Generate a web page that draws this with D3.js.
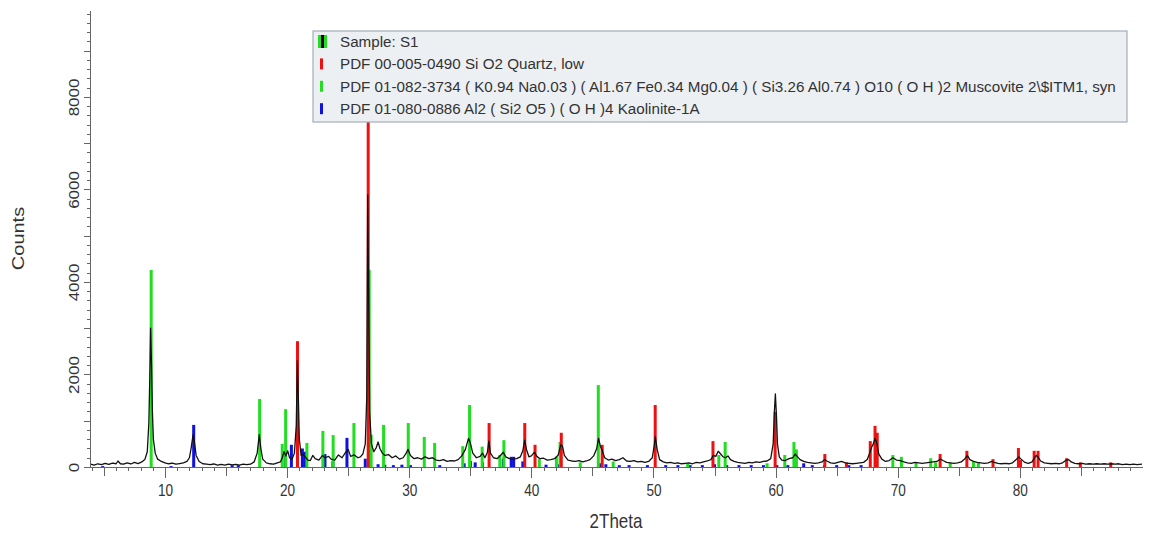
<!DOCTYPE html>
<html>
<head>
<meta charset="UTF-8"/>
<script src="https://d3js.org/d3.v7.min.js"></script>
<title>XRD pattern S1</title>
<style>
body{margin:0;background:#fff;}
text{font-family:"Liberation Sans",Arial,sans-serif;fill:#333;}
.axis path,.axis line{stroke:#666;shape-rendering:crispEdges;}
</style>
</head>
<body>
<svg id='big' width=1151 height=533></svg>
<script>
'use strict';

// measured pattern of sample S1: [2theta, counts]
var sampleS1 = [
[3.9,60],[4.2,40],[4.5,70],[4.8,50],[5.1,80],[5.4,55],[5.7,85],[6.0,70],[6.15,130],[6.35,70],[6.6,60],[6.9,90],
[7.2,65],[7.5,100],[7.8,75],[8.1,110],[8.35,160],[8.55,330],[8.68,950],[8.76,2000],[8.82,3000],[8.9,2200],[8.97,1200],
[9.05,600],[9.2,300],[9.4,170],[9.7,120],[10.0,90],[10.3,70],[10.6,85],[10.9,60],[11.2,75],[11.5,90],[11.8,120],
[12.0,200],[12.15,420],[12.3,700],[12.4,560],[12.55,250],[12.8,120],[13.1,70],[13.4,60],[13.7,50],[14.0,65],
[14.3,40],[14.6,55],[14.9,40],[15.2,60],[15.5,45],[15.8,55],[16.1,40],[16.4,60],[16.7,50],[17.0,60],[17.3,110],
[17.55,300],[17.72,700],[17.85,400],[18.0,170],[18.3,90],[18.6,70],[18.9,60],[19.2,90],[19.45,110],[19.6,200],
[19.75,330],[19.9,240],[20.05,350],[20.2,200],[20.4,170],[20.6,300],[20.75,900],[20.84,2300],[20.92,1500],
[21.0,600],[21.15,250],[21.3,280],[21.5,210],[21.7,150],[21.9,140],[22.1,250],[22.3,180],[22.6,150],[22.9,250],
[23.1,200],[23.4,230],[23.6,170],[23.9,150],[24.2,260],[24.5,200],[24.8,320],[25.0,380],[25.2,230],[25.5,260],
[25.8,200],[26.0,220],[26.2,280],[26.4,500],[26.52,1500],[26.6,5880],[26.68,3500],[26.76,1200],[26.9,500],
[27.1,330],[27.3,420],[27.45,540],[27.6,400],[27.8,300],[28.0,250],[28.3,270],[28.6,200],[28.9,240],[29.2,170],
[29.5,200],[29.75,300],[29.9,380],[30.1,250],[30.4,180],[30.7,200],[31.0,170],[31.3,220],[31.6,180],[31.9,200],
[32.2,150],[32.5,140],[32.8,160],[33.1,120],[33.4,140],[33.7,130],[34.0,160],[34.3,240],[34.6,380],[34.85,620],
[35.0,520],[35.2,300],[35.5,200],[35.8,230],[36.0,300],[36.2,200],[36.4,320],[36.52,560],[36.65,300],[36.9,200],
[37.2,180],[37.5,260],[37.7,320],[37.9,220],[38.2,180],[38.5,170],[38.8,180],[39.1,220],[39.3,350],[39.45,580],
[39.6,380],[39.8,220],[40.0,240],[40.25,320],[40.45,230],[40.7,180],[41.0,190],[41.3,150],[41.6,160],[41.9,180],
[42.2,260],[42.4,480],[42.55,450],[42.7,250],[43.0,150],[43.3,130],[43.6,120],[43.9,140],[44.2,110],[44.5,130],
[44.8,160],[45.1,240],[45.35,400],[45.5,620],[45.65,450],[45.8,360],[46.0,200],[46.3,150],[46.6,170],[46.9,140],
[47.2,160],[47.5,200],[47.8,130],[48.1,120],[48.4,140],[48.7,110],[49.0,120],[49.3,100],[49.6,120],[49.9,200],
[50.05,450],[50.15,660],[50.3,380],[50.5,160],[50.8,110],[51.1,90],[51.4,100],[51.7,80],[52.0,90],[52.3,70],
[52.6,80],[52.9,90],[53.2,70],[53.5,100],[53.8,90],[54.1,110],[54.4,130],[54.7,160],[54.9,250],[55.1,230],
[55.3,340],[55.5,280],[55.7,220],[55.9,200],[56.1,240],[56.3,160],[56.6,120],[56.9,100],[57.2,90],[57.5,80],
[57.8,100],[58.1,90],[58.4,110],[58.7,100],[59.0,120],[59.3,130],[59.6,180],[59.8,500],[59.9,1200],[59.98,1580],
[60.07,1100],[60.15,500],[60.3,220],[60.5,150],[60.8,140],[61.1,180],[61.4,200],[61.6,280],[61.8,220],[62.0,160],
[62.3,120],[62.6,100],[62.9,90],[63.2,80],[63.5,90],[63.8,110],[64.0,160],[64.2,130],[64.5,90],[64.8,80],
[65.1,100],[65.4,120],[65.7,90],[66.0,80],[66.3,70],[66.6,80],[66.9,90],[67.2,100],[67.5,160],[67.7,300],
[67.85,420],[68.0,500],[68.15,620],[68.3,500],[68.45,280],[68.7,170],[69.0,120],[69.3,140],[69.6,200],[69.9,150],
[70.2,140],[70.5,110],[70.8,90],[71.1,80],[71.4,100],[71.7,90],[72.0,80],[72.3,90],[72.6,100],[72.9,110],
[73.2,120],[73.5,170],[73.7,140],[74.0,100],[74.3,90],[74.6,80],[74.9,90],[75.2,110],[75.5,180],[75.7,250],
[75.9,160],[76.2,120],[76.5,100],[76.8,90],[77.1,80],[77.4,90],[77.7,120],[77.9,100],[78.2,80],[78.5,70],
[78.8,80],[79.1,70],[79.4,90],[79.7,160],[79.9,220],[80.1,170],[80.4,100],[80.7,80],[81.0,110],[81.2,200],
[81.35,250],[81.5,210],[81.7,130],[82.0,90],[82.3,80],[82.6,70],[82.9,80],[83.2,70],[83.5,90],[83.8,150],
[84.0,160],[84.2,110],[84.5,80],[84.8,70],[85.1,80],[85.4,60],[85.7,70],[86.0,60],[86.3,70],[86.6,60],
[86.9,70],[87.2,60],[87.5,70],[87.8,60],[88.1,70],[88.4,50],[88.7,60],[89.0,50],[89.3,60],[89.6,50],[90.0,60]
];

// reference patterns (stick positions / intensities)
var quartzPos = [20.85,26.64,36.54,39.46,40.3,42.45,45.8,50.14,54.87,59.96,64.03,65.8,67.75,68.14,68.32,
  73.47,75.66,77.8,79.88,80.05,81.17,81.49,83.83,84.95,87.44];
var quartzInt = [2720,7500,950,950,480,740,480,1340,560,1190,280,100,560,890,740,
  280,350,170,410,150,350,350,190,100,100];

var muscovitePos = [8.87,17.75,19.6,19.88,21.62,22.93,23.77,25.47,26.72,26.88,27.9,29.92,31.23,32.08,34.38,
  34.94,35.97,37.42,37.75,40.65,42.05,42.35,44.0,45.48,46.7,52.8,55.35,55.87,59.3,60.75,61.5,61.7,69.6,70.3,
  71.5,72.7,73.1,74.3,76.2,76.6];
var muscoviteInt = [4260,1470,500,1250,520,780,690,950,4260,700,910,950,650,520,450,
  1340,440,260,580,170,220,540,100,1770,120,80,260,540,80,260,540,380,260,220,
  100,190,100,90,110,100];

var kaolinitePos = [4.9,10.5,12.35,15.5,16.0,19.85,20.35,21.25,21.45,23.1,23.75,24.9,26.4,27.45,28.0,28.7,
  29.4,30.1,32.5,34.5,35.0,35.4,36.0,37.7,38.35,38.55,39.3,41.2,42.3,45.6,46.1,47.2,48.0,49.5,51.0,52.0,
  53.0,54.0,55.0,56.0,57.0,58.0,59.0,60.1,61.0,62.3,63.0,64.0,65.0,66.0,67.0];
var kaoliniteInt = [20,20,910,40,40,250,480,400,330,280,120,630,180,60,50,40,
  50,40,40,80,130,100,100,180,220,220,120,50,60,80,60,40,40,40,40,40,
  40,40,60,40,40,40,40,40,40,80,40,40,40,40,40];

var legendLabels = [
  'Sample: S1',
  'PDF 00-005-0490 Si O2 Quartz, low',
  'PDF 01-082-3734 ( K0.94 Na0.03 ) ( Al1.67 Fe0.34 Mg0.04 ) ( Si3.26 Al0.74 ) O10 ( O H )2 Muscovite 2\\$ITM1, syn',
  'PDF 01-080-0886 Al2 ( Si2 O5 ) ( O H )4 Kaolinite-1A'
];
var legendColors = ['#000', '#ee1111', '#22dd22', '#1111dd'];

var xTickLabels = [10,20,30,40,50,60,70,80];
var yTickLabels = [0,2000,4000,6000,8000];
var xMin = 3.86, xMax = 90, yMax = 9880;

function init(){
  var svg = d3.select('#big');
  svg.sx = d3.scaleLinear().domain([xMin, xMax]).range([90, 1142]);
  svg.sy = d3.scaleLinear().domain([0, yMax]).range([467, 10]);
  return svg;
}

function drawAxes(svg){
  var sx = svg.sx, sy = svg.sy;
  var x0 = sx(xMin), y0 = sy(0);

  // y axis: minor ticks every 200, major every 1000, labels every 2000
  svg.append('g').attr('class','axis')
    .attr('transform','translate(' + x0 + ',0)')
    .call(d3.axisLeft(sy).tickValues(d3.range(0, yMax, 200)).tickSize(3).tickSizeOuter(0).tickFormat(''));
  var ya = svg.append('g').attr('class','axis')
    .attr('transform','translate(' + x0 + ',0)')
    .call(d3.axisLeft(sy).tickValues(d3.range(0, yMax, 1000)).tickSize(6).tickSizeOuter(0)
      .tickFormat(function(d){ return yTickLabels.indexOf(d) >= 0 ? d : ''; }));
  ya.select('.domain').remove();
  ya.selectAll('text')
    .attr('transform','scale(0.85,1) rotate(-90)')
    .attr('x', 0).attr('y', -13).attr('dy', 0)
    .attr('text-anchor','middle')
    .attr('font-size', 17).attr('fill','#333');

  // x axis: ticks every degree, longer every 5, labels every 10
  var xa = svg.append('g').attr('class','axis')
    .attr('transform','translate(0,' + y0 + ')')
    .call(d3.axisBottom(sx).tickValues(d3.range(4, 90, 1)).tickSizeOuter(0).tickFormat(''));
  xa.selectAll('.tick line').attr('y2', function(d){ return d % 10 == 0 ? 11 : (d % 5 == 0 ? 9 : 4); });
  var xl = svg.append('g').attr('class','axis')
    .attr('transform','translate(0,' + y0 + ')')
    .call(d3.axisBottom(sx).tickValues(xTickLabels).tickSize(0).tickSizeOuter(0));
  xl.select('.domain').remove();
  xl.selectAll('text')
    .attr('x', 0).attr('y', 18).attr('dy','0.71em')
    .attr('transform','scale(0.85,1)')
    .attr('font-size', 16).attr('fill','#333');

  svg.append('text')
    .attr('transform','translate(' + ((sx(xMin) + sx(xMax)) / 2) + ',528) scale(0.85,1)')
    .attr('text-anchor','middle')
    .attr('font-size', 20)
    .text('2Theta');

  svg.append('text')
    .attr('transform','translate(24,' + ((sy(0) + sy(yMax)) / 2) + ') scale(0.85,1) rotate(-90)')
    .attr('text-anchor','middle')
    .attr('font-size', 20)
    .text('Counts');
}

function drawSticks(svg, pos, val, color){
  var sx = svg.sx, sy = svg.sy;
  svg.append('g').selectAll('rect')
    .data(pos.map(function(p, i){ return [p, val[i]]; }))
    .enter().append('rect')
    .attr('x', function(d){ return sx(d[0]) - 1.5; })
    .attr('width', 3)
    .attr('y', function(d){ return sy(d[1]); })
    .attr('height', function(d){ return sy(0) - sy(d[1]); })
    .attr('fill', color);
}

function drawPattern(svg){
  var line = d3.line()
    .x(function(d){ return svg.sx(d[0]); })
    .y(function(d){ return svg.sy(d[1]); });
  svg.append('path')
    .datum(sampleS1)
    .attr('d', line)
    .attr('fill','none')
    .attr('stroke','#111')
    .attr('stroke-width', 1.3)
    .attr('stroke-linejoin','round');
}

function drawLegend(svg){
  var g = svg.append('g').attr('transform','translate(313,31)');
  g.append('rect')
    .attr('width', 814).attr('height', 91)
    .attr('fill','#edf0f3').attr('stroke','#a3adb8').attr('stroke-width', 1.2);

  var rows = g.selectAll('.lrow').data(legendLabels).enter()
    .append('g').attr('class','lrow')
    .attr('transform', function(d, i){ return 'translate(0,' + (10 + i * 22.4) + ')'; });

  rows.each(function(d, i){
    var r = d3.select(this);
    if(i == 0){
      r.append('rect').attr('x', 5).attr('y', -6).attr('width', 9).attr('height', 13).attr('fill', '#22dd22');
      r.append('rect').attr('x', 8).attr('y', -6).attr('width', 3).attr('height', 13).attr('fill', '#000');
    }else{
      r.append('rect').attr('x', 7).attr('y', -5).attr('width', 3).attr('height', 11).attr('fill', legendColors[i]);
    }
    r.append('text')
      .attr('x', 27).attr('y', 6)
      .attr('font-size', 15.2)
      .attr('fill','#222')
      .text(d);
  });
}

function main(){
  var svg = init();
  drawSticks(svg, kaolinitePos, kaoliniteInt, '#1111dd');
  drawSticks(svg, muscovitePos, muscoviteInt, '#22dd22');
  drawSticks(svg, quartzPos, quartzInt, '#ee1111');
  drawPattern(svg);
  drawAxes(svg);
  drawLegend(svg);
  return svg;
}

var svg = main();
</script>
</body>
</html>
